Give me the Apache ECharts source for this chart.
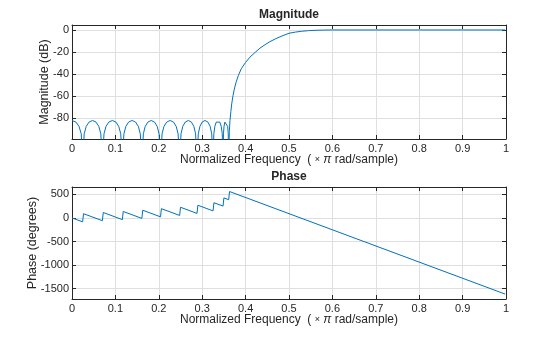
<!DOCTYPE html>
<html>
<head>
<meta charset="utf-8">
<script src="https://cdn.jsdelivr.net/npm/echarts@6/dist/echarts.min.js"></script>
<style>
html,body{margin:0;padding:0;background:#fff;}
#chart{width:560px;height:337px;}
</style>
</head>
<body>
<div id="chart"></div>
<script>
// ---- Data ----
var magFreq = [0, 0.0091, 0.0162, 0.0213, 0.0245,
  0.0281, 0.0327, 0.0391, 0.0473, 0.0554, 0.0618, 0.0664, 0.070,
  0.0737, 0.0783, 0.0847, 0.093, 0.1013, 0.1077, 0.1123, 0.116,
  0.1196, 0.1241, 0.1304, 0.1385, 0.1466, 0.1529, 0.1574, 0.161,
  0.1644, 0.1687, 0.1748, 0.1825, 0.1902, 0.1963, 0.2006, 0.204,
  0.2075, 0.2119, 0.2181, 0.226, 0.2339, 0.2401, 0.2445, 0.248,
  0.2512, 0.2552, 0.2608, 0.268, 0.2752, 0.2808, 0.2848, 0.288,
  0.291, 0.2947, 0.2998, 0.3065, 0.3132, 0.3183, 0.322, 0.325,
  0.3268, 0.3291, 0.3324, 0.3365, 0.3406, 0.3439, 0.3462, 0.348,
  0.349, 0.3503, 0.3522, 0.3545, 0.3568, 0.3587, 0.36, 0.361,
  0.3625, 0.364, 0.366, 0.368, 0.371, 0.374, 0.378, 0.383, 0.39, 0.40,
  0.41, 0.422, 0.433, 0.445, 0.456, 0.468, 0.484, 0.50, 0.515, 0.529,
  0.545, 0.56, 0.58, 0.60, 0.7, 0.8, 0.9, 0.998];
var magDb = [-82, -83.5, -87.4, -94.1, -120,
  -94.1, -87.4, -83.5, -82, -83.5, -87.4, -94.1, -120,
  -94.1, -87.4, -83.5, -82, -83.5, -87.4, -94.1, -120,
  -94.1, -87.4, -83.5, -82, -83.5, -87.4, -94.1, -120,
  -94.1, -87.4, -83.5, -82, -83.5, -87.4, -94.1, -120,
  -94.1, -87.4, -83.5, -82, -83.5, -87.4, -94.1, -120,
  -94.1, -87.4, -83.5, -82, -83.5, -87.4, -94.1, -120,
  -94.1, -87.4, -83.5, -82, -83.5, -87.4, -94.1, -120,
  -94.1, -87.4, -83.5, -82, -83.5, -87.4, -94.1, -120,
  -94.1, -87.4, -83.5, -82, -83.5, -87.4, -94.1, -120,
  -92, -82, -74, -67, -59.5, -53.6, -47.5, -41.5, -35.2, -29.4,
  -24.6, -20.3, -16.5, -13.3, -10.6, -8.2, -5.4, -3.0, -1.9, -1.2,
  -0.6, -0.3, -0.1, 0, 0, 0, 0, 0];

var phaseFreq = [0, 0.0245, 0.0265, 0.070, 0.072, 0.116, 0.118, 0.161, 0.163,
  0.204, 0.206, 0.248, 0.250, 0.288, 0.290, 0.325, 0.327, 0.348, 0.350,
  0.361, 0.363, 0.998];
var phaseDeg = [0, -83.8, 89, -59.4, 114, -36.7, 136, -10.6, 162,
  22.3, 195, 51.8, 225, 95.0, 268, 148.5, 321, 249.8, 423,
  385.4, 558, -1613];

var freqTicks = [0, 0.1, 0.2, 0.3, 0.4, 0.5, 0.6, 0.7, 0.8, 0.9, 1];
var magTicks = [-80, -60, -40, -20, 0];
var phaseTicks = [-1500, -1000, -500, 0, 500];

// ---- Styles ----
var FONT = "'Liberation Sans', Arial, Helvetica, sans-serif";
var AX = '#262626';
var GRIDC = '#dfdfdf';
var LINEC = '#0072BD';

function pairs(xs, ys){ return xs.map(function(x,i){ return [x, ys[i]]; }); }
function plain(v){ return String(Math.round(v*10)/10); }

var grids = [
  {left:72, top:25, width:434, height:114},
  {left:72, top:187, width:434, height:112}
];

function xMain(gi){
  return {
    type:'value', gridIndex:gi, min:0, max:1, interval:0.1, position:'bottom',
    name:'Normalized Frequency  ( {s|×} {i|π} rad/sample)', nameLocation:'middle', nameGap:15,
    nameMoveOverlap:false,
    nameTextStyle:{color:AX, fontFamily:FONT, fontSize:12,
      rich:{s:{fontSize:9, color:AX, fontFamily:FONT}, i:{fontStyle:'italic', fontSize:12, color:AX, fontFamily:FONT}}},
    axisLine:{show:true, onZero:false, lineStyle:{color:AX, width:1}},
    axisTick:{show:true, inside:true, length:4, lineStyle:{color:AX}},
    axisLabel:{color:AX, fontFamily:FONT, fontSize:11, margin:4, formatter:plain},
    splitLine:{show:true, lineStyle:{color:GRIDC, width:1}}
  };
}
function xTop(gi, title){
  return {
    type:'value', gridIndex:gi, min:0, max:1, interval:0.1, position:'top',
    name:title, nameLocation:'middle', nameGap:4, nameMoveOverlap:false,
    nameTextStyle:{color:AX, fontFamily:FONT, fontSize:12, fontWeight:'bold'},
    axisLine:{show:true, onZero:false, lineStyle:{color:AX, width:1}},
    axisTick:{show:true, inside:true, length:4, lineStyle:{color:AX}},
    axisLabel:{show:false},
    splitLine:{show:false}
  };
}
function yMain(gi, mn, mx, ticks, name, gap){
  return {
    type:'value', gridIndex:gi, min:mn, max:mx, position:'left',
    name:name, nameLocation:'middle', nameGap:gap, nameMoveOverlap:false,
    nameTextStyle:{color:AX, fontFamily:FONT, fontSize:12.5},
    axisLine:{show:true, onZero:false, lineStyle:{color:AX, width:1}},
    axisTick:{show:true, inside:true, length:4, lineStyle:{color:AX}, customValues:ticks},
    axisLabel:{color:AX, fontFamily:FONT, fontSize:11, margin:3, customValues:ticks,
      formatter:function(v){ return String(Math.round(v)); }},
    splitLine:{show:true, lineStyle:{color:GRIDC, width:1}}
  };
}
function yRight(gi, mn, mx, ticks){
  return {
    type:'value', gridIndex:gi, min:mn, max:mx, position:'right',
    axisLine:{show:true, onZero:false, lineStyle:{color:AX, width:1}},
    axisTick:{show:true, inside:true, length:4, lineStyle:{color:AX}, customValues:ticks},
    axisLabel:{show:false, customValues:ticks},
    splitLine:{show:false}
  };
}

var option = {
  animation:false,
  backgroundColor:'#ffffff',
  grid: grids,
  xAxis: [xMain(0), xTop(0,'Magnitude'), xMain(1), xTop(1,'Phase')],
  yAxis: [
    yMain(0, -98.8, 4.5, magTicks, 'Magnitude (dB)', 21),
    yRight(0, -98.8, 4.5, magTicks),
    yMain(1, -1717, 654, phaseTicks, 'Phase (degrees)', 33),
    yRight(1, -1717, 654, phaseTicks)
  ],
  series: [
    {type:'line', xAxisIndex:0, yAxisIndex:0, data:pairs(magFreq, magDb), showSymbol:false,
      clip:true, lineStyle:{color:LINEC, width:1}, itemStyle:{color:LINEC}},
    {type:'line', xAxisIndex:2, yAxisIndex:2, data:pairs(phaseFreq, phaseDeg), showSymbol:false,
      clip:true, lineStyle:{color:LINEC, width:1}, itemStyle:{color:LINEC}}
  ]
};

var chart = echarts.init(document.getElementById('chart'), null, {renderer:'canvas'});
chart.setOption(option);
</script>
</body>
</html>
